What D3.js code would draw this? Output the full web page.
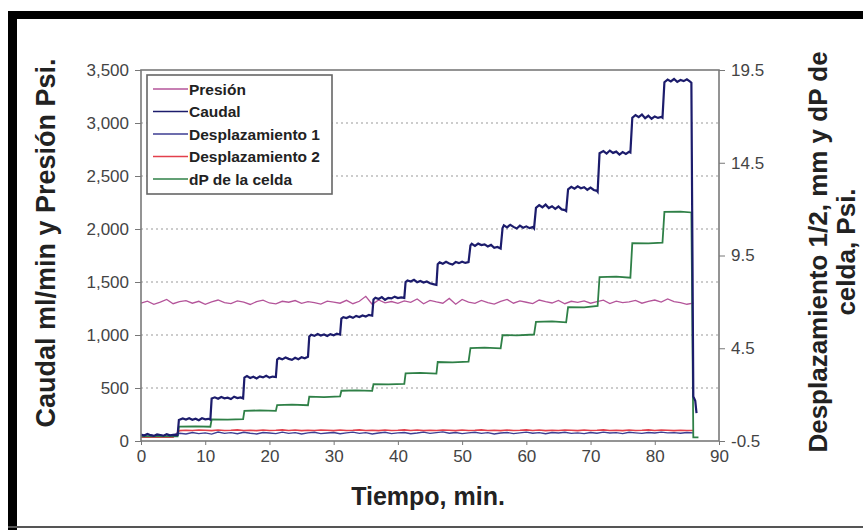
<!DOCTYPE html>
<html><head><meta charset="utf-8">
<script src="https://cdn.jsdelivr.net/npm/d3@7"></script>
<style>
html,body{margin:0;padding:0;background:#fff;}
svg{display:block;font-family:Arial,"Liberation Sans",sans-serif;}
</style></head>
<body><svg id="c" width="863" height="530"></svg>
<script>
// ---------- DATA ----------
const xTicks = [0,10,20,30,40,50,60,70,80,90];
const yLeftTicks = [0,500,1000,1500,2000,2500,3000,3500];
const yRightTicks = [-0.5,4.5,9.5,14.5,19.5];
const seriesNames = ["Presión","Caudal","Desplazamiento 1","Desplazamiento 2","dP de la celda"];

const tiempo = [0,1,2,3,4,5,6,7,8,9,10,11,12,13,14,15,16,17,18,19,20,21,22,23,24,25,26,27,28,29,
30,31,32,33,34,35,36,37,38,39,40,41,42,43,44,45,46,47,48,49,50,51,52,53,54,55,56,57,58,59,
60,61,62,63,64,65,66,67,68,69,70,71,72,73,74,75,76,77,78,79,80,81,82,83,84,85,86];

const presion = [1300,1320,1290,1310,1335,1295,1315,1325,1300,1318,
1290,1312,1330,1305,1296,1322,1310,1288,1315,1328,
1302,1294,1318,1309,1325,1298,1314,1306,1292,1320,
1311,1300,1327,1295,1318,1365,1290,1330,1303,1316,
1298,1322,1308,1340,1294,1326,1312,1300,1345,1290,
1335,1310,1298,1326,1305,1292,1318,1336,1300,1322,
1309,1296,1330,1314,1302,1326,1295,1318,1308,1322,
1300,1315,1328,1296,1320,1305,1312,1326,1300,1318,
1330,1310,1340,1315,1305,1290,1300];

const desp1 = [-0.20,-0.15,-0.22,-0.18,-0.25,-0.16,-0.08,-0.12,-0.04,-0.10,
-0.06,-0.13,-0.02,-0.09,-0.05,-0.11,-0.03,-0.08,-0.12,-0.04,
-0.07,-0.10,-0.02,-0.09,-0.05,-0.12,-0.06,-0.03,-0.10,-0.07,
-0.04,-0.11,-0.06,-0.02,-0.09,-0.05,-0.12,-0.07,-0.03,-0.10,
-0.06,-0.04,-0.11,-0.07,-0.02,-0.09,-0.05,-0.01,-0.08,-0.04,
-0.10,-0.06,-0.03,-0.09,-0.05,-0.12,-0.07,-0.04,-0.10,-0.06,
-0.02,-0.08,-0.05,-0.11,-0.04,-0.07,-0.03,-0.09,-0.06,-0.10,
-0.04,-0.08,-0.02,-0.07,-0.05,-0.10,-0.03,-0.06,-0.09,-0.04,
-0.07,-0.02,-0.06,-0.05,-0.08,-0.04,-0.06];

const desp2 = [-0.30,-0.30,-0.30,-0.30,-0.30,-0.30,0.06,0.08,0.07,0.09,
0.08,0.06,0.09,0.07,0.08,0.10,0.07,0.08,0.06,0.09,
0.07,0.08,0.10,0.07,0.09,0.06,0.08,0.07,0.09,0.08,
0.06,0.09,0.07,0.08,0.10,0.07,0.08,0.06,0.09,0.07,
0.08,0.10,0.07,0.09,0.06,0.08,0.07,0.09,0.08,0.06,
0.09,0.07,0.08,0.10,0.07,0.08,0.06,0.09,0.07,0.08,
0.10,0.07,0.09,0.06,0.08,0.07,0.09,0.08,0.06,0.09,
0.07,0.08,0.10,0.07,0.08,0.06,0.09,0.07,0.08,0.10,
0.07,0.09,0.08,0.06,0.08,0.07,0.07];

const caudalT = [
0,0.5,1,1.5,2,2.5,3,3.5,4,4.5,5,5.5,5.7,
5.9,6.5,7,7.5,8,8.5,9,9.5,10,10.5,10.8,
11.0,11.5,12,12.5,13,13.5,14,14.5,15,15.5,15.9,
16.1,16.5,17,17.5,18,18.5,19,19.5,20,20.5,21.0,
21.2,21.5,22,22.5,23,23.5,24,24.5,25,25.5,26.0,
26.2,26.5,27,27.5,28,28.5,29,29.5,30,30.5,31.0,
31.2,31.5,32,32.5,33,33.5,34,34.5,35,35.5,36.0,
36.2,36.5,37,37.5,38,38.5,39,39.5,40,40.5,41.0,
41.2,41.5,42,42.5,43,43.5,44,44.5,45,45.5,46.0,
46.2,46.5,47,47.5,48,48.5,49,49.5,50,50.5,51.0,
51.3,51.5,52,52.5,53,53.5,54,54.5,55,55.5,56.0,
56.3,56.5,57,57.5,58,58.5,59,59.5,60,60.5,61,61.2,
61.5,62,62.5,63,63.5,64,64.5,65,65.5,66,66.2,
66.5,67,67.5,68,68.5,69,69.5,70,70.5,71,71.1,
71.4,72,72.5,73,73.5,74,74.5,75,75.5,76,76.2,
76.5,77,77.5,78,78.5,79,79.5,80,80.5,81,81.2,
81.5,82,82.5,83,83.5,84,84.5,85,85.5,85.7,
86.0,86.3,86.5];
const caudalV = [
60,52,66,55,48,62,57,50,64,53,58,55,56,
198,212,203,215,200,210,196,214,205,209,202,
400,412,398,415,403,409,396,418,405,411,402,
598,612,595,606,590,610,600,615,598,608,604,
768,782,770,788,775,765,785,772,790,780,795,
985,1002,992,1010,995,1005,990,1008,998,1012,1003,
1155,1168,1160,1175,1162,1180,1170,1185,1175,1190,1182,
1335,1352,1340,1358,1332,1350,1345,1362,1348,1355,1350,
1500,1515,1505,1520,1498,1510,1495,1505,1488,1480,1472,
1668,1685,1672,1690,1675,1665,1688,1678,1692,1680,1688,
1845,1860,1840,1862,1848,1855,1835,1850,1822,1830,1815,
2010,2035,2015,2040,2020,2005,2032,2012,2025,2008,2018,2005,
2200,2225,2205,2230,2198,2215,2190,2212,2185,2178,2170,
2375,2398,2380,2402,2385,2395,2370,2390,2368,2360,2352,
2715,2735,2712,2740,2718,2730,2702,2725,2708,2728,2722,
3050,3075,3055,3080,3045,3068,3040,3062,3048,3058,3050,
3385,3410,3392,3415,3388,3405,3395,3412,3390,3380,
420,380,262];

const dpT = [0,5.7, 5.9,8.5,10.8, 11.0,13.5,15.9, 16.1,18.5,21.0, 21.2,23.5,26.0, 26.2,28.5,31.0, 31.2,33.5,36.0,
36.2,38.5,41.0, 41.2,43.5,46.0, 46.2,48.5,51.0, 51.3,53.5,56.0, 56.3,58.5,61.2, 61.5,64.0,66.2, 66.5,69.0,71.1,
71.4,74.0,76.2, 76.5,79.0,81.2, 81.5,84.0,85.7, 86.0,86.8];
const dpV = [-0.25,-0.25, 0.27,0.29,0.27, 0.67,0.65,0.68, 1.13,1.15,1.12, 1.44,1.46,1.43, 1.89,1.87,1.90, 2.21,2.23,2.20,
2.57,2.55,2.58, 3.15,3.17,3.13, 3.76,3.74,3.78, 4.51,4.53,4.49, 5.21,5.19,5.24, 5.92,5.95,5.90, 6.72,6.70,6.78,
8.34,8.36,8.30, 10.17,10.15,10.19, 11.85,11.87,11.82, -0.30,-0.30];

// ---------- LAYOUT ----------
const svg = d3.select("#c");
const X0 = 141, X1 = 719, Y0 = 441, Y1 = 70;
const x = d3.scaleLinear().domain([0,90]).range([X0,X1]);
const yL = d3.scaleLinear().domain([0,3500]).range([Y0,Y1]);
const yR = d3.scaleLinear().domain([-0.5,19.5]).range([Y0,Y1]);
const colors = {pres:"#b4559a", caudal:"#1c1c6c", d1:"#3d3d92", d2:"#e3404c", dp:"#2f8047"};

// frame
svg.append("rect").attr("x",0).attr("y",0).attr("width",863).attr("height",530).attr("fill","#fff");
svg.append("rect").attr("x",8).attr("y",11).attr("width",855).attr("height",8).attr("fill","#000");
svg.append("rect").attr("x",8).attr("y",11).attr("width",9).attr("height",519).attr("fill","#000");
svg.append("rect").attr("x",8).attr("y",526).attr("width",855).attr("height",2).attr("fill","#555");

// grid
svg.append("g").selectAll("line").data(yLeftTicks.filter(d=>d>0 && d<3500)).join("line")
  .attr("x1",X0).attr("x2",X1).attr("y1",d=>yL(d)).attr("y2",d=>yL(d))
  .attr("stroke","#9a9a9a").attr("stroke-width",1.2).attr("stroke-dasharray","2,3");

// axes
const axL = svg.append("g").attr("transform",`translate(${X0},0)`)
  .call(d3.axisLeft(yL).tickValues(yLeftTicks).tickFormat(d3.format(",")).tickSize(6).tickPadding(6));
const axR = svg.append("g").attr("transform",`translate(${X1},0)`)
  .call(d3.axisRight(yR).tickValues(yRightTicks).tickFormat(d=>d3.format(".1f")(d).replace("\u2212","-")).tickSize(6).tickPadding(6));
const axB = svg.append("g").attr("transform",`translate(0,${Y0})`)
  .call(d3.axisBottom(x).tickValues(xTicks).tickSize(4).tickPadding(5));
[axL,axR,axB].forEach(a=>{
  a.select(".domain").remove();
  a.selectAll("line").attr("stroke","#777");
  a.selectAll("text").attr("font-size",17).attr("fill","#444").attr("font-family","Arial, 'Liberation Sans', sans-serif");
});

// series
const lineL = d3.line().x(d=>x(d[0])).y(d=>yL(d[1]));
const lineR = d3.line().x(d=>x(d[0])).y(d=>yR(d[1]));
const g = svg.append("g");
g.append("path").datum(tiempo.map((t,i)=>[t,desp2[i]])).attr("d",lineR).attr("fill","none")
  .attr("stroke",colors.d2).attr("stroke-width",1.6);
g.append("path").datum(tiempo.map((t,i)=>[t,desp1[i]])).attr("d",lineR).attr("fill","none")
  .attr("stroke",colors.d1).attr("stroke-width",1.4);
g.append("path").datum(tiempo.map((t,i)=>[t,presion[i]])).attr("d",lineL).attr("fill","none")
  .attr("stroke",colors.pres).attr("stroke-width",1.3);
g.append("path").datum(dpT.map((t,i)=>[t,dpV[i]])).attr("d",lineR).attr("fill","none")
  .attr("stroke",colors.dp).attr("stroke-width",1.8);
g.append("path").datum(caudalT.map((t,i)=>[t,caudalV[i]])).attr("d",lineL).attr("fill","none")
  .attr("stroke",colors.caudal).attr("stroke-width",2.2);

// plot border
svg.append("rect").attr("x",X0).attr("y",Y1).attr("width",X1-X0).attr("height",Y0-Y1)
  .attr("fill","none").attr("stroke","#7a7a7a").attr("stroke-width",1.6);

// legend
const lg = svg.append("g");
lg.append("rect").attr("x",147).attr("y",75).attr("width",185).attr("height",119)
  .attr("fill","#fff").attr("stroke","#666").attr("stroke-width",1.6);
const legColors = [colors.pres, colors.caudal, colors.d1, colors.d2, colors.dp];
const items = lg.selectAll("g").data(seriesNames).join("g")
  .attr("transform",(d,i)=>`translate(0,${89 + i*22.5})`);
items.append("line").attr("x1",153).attr("x2",188).attr("y1",0).attr("y2",0)
  .attr("stroke",(d,i)=>legColors[i]).attr("stroke-width",1.4);
items.append("text").attr("x",189).attr("y",5.5).text(d=>d)
  .attr("font-size",15.5).attr("font-weight","bold").attr("fill","#222");

// titles
svg.append("text").attr("x",428).attr("y",505).attr("text-anchor","middle")
  .attr("font-size",25).attr("font-weight","bold").attr("fill","#222").text("Tiempo, min.");
svg.append("text").attr("transform","translate(55,243) rotate(-90)").attr("text-anchor","middle")
  .attr("font-size",27).attr("font-weight","bold").attr("fill","#222").text("Caudal ml/min y Presión Psi.");
const rt = svg.append("text").attr("transform","translate(827,252) rotate(-90)").attr("text-anchor","middle")
  .attr("font-size",26).attr("font-weight","bold").attr("fill","#222");
rt.append("tspan").attr("x",0).attr("y",0).text("Desplazamiento 1/2, mm y dP de");
rt.append("tspan").attr("x",0).attr("y",28).text("celda, Psi.");
</script></body></html>
